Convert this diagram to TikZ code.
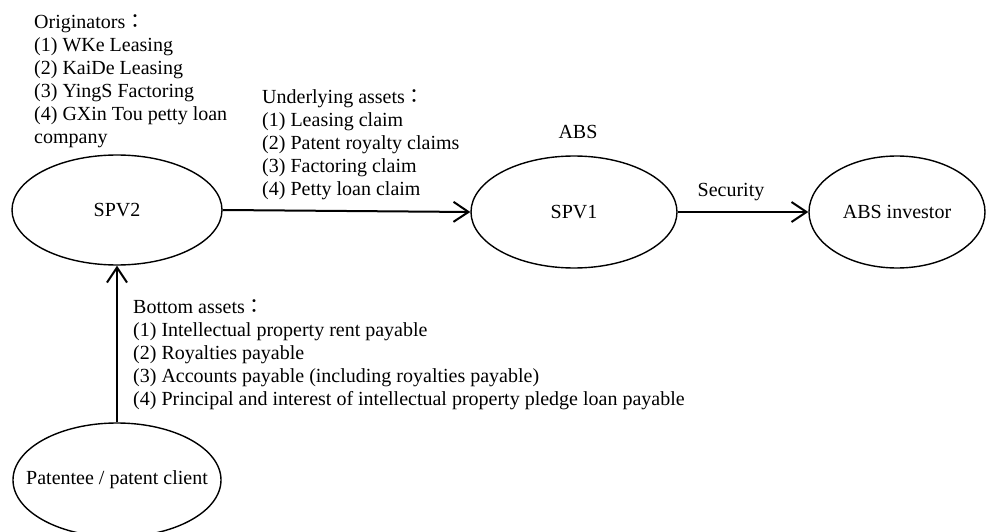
\documentclass[tikz,border=0pt]{standalone}
\usepackage{fontspec}
\setmainfont{Liberation Serif}
\newfontfamily\cjkjp{Noto Sans CJK JP}
\usetikzlibrary{shapes.geometric,arrows.meta}
\newcommand{\fcolon}{{\cjkjp ：}}
\newcommand{\ctext}[1]{\makebox[0pt]{#1}}
\tikzset{
  oval/.style={draw, ellipse, line width=1.4pt, inner sep=0pt, font=\fontsize{20}{23}\selectfont},
  flow/.style={draw, line width=2pt, -{Straight Barb[length=15pt,width=20pt,line width=2pt]}},
  txt/.style={inner sep=0pt, align=left, anchor=base west, font=\fontsize{20}{23}\selectfont},
  lbl/.style={inner sep=0pt, anchor=base, font=\fontsize{20}{23}\selectfont}
}
\begin{document}
\begin{tikzpicture}[x=1pt,y=-1pt]
\useasboundingbox (0,0) rectangle (989,532);
\clip (0,0) rectangle (989,532);
\node[oval, minimum width=210pt, minimum height=110pt] (spv2) at (117,210) {\ctext{SPV2}};
\node[oval, minimum width=206pt, minimum height=112pt] (spv1) at (574,212) {\ctext{SPV1}};
\node[oval, minimum width=176pt, minimum height=112pt] (inv) at (897,212) {\ctext{ABS investor}};
\node[oval, minimum width=208pt, minimum height=114pt] (pat) at (117,480) {\ctext{Patentee / patent client}};
\draw[flow] (spv2.east) -- (spv1.west);
\draw[flow] (spv1.east) -- (inv.west);
\draw[flow] (pat.north) -- (spv2.south);
\node[txt] (orig) at (34,143.5) {Originators\fcolon\\(1) WKe Leasing\\(2) KaiDe Leasing\\(3) YingS Factoring\\(4) GXin Tou petty loan\\company};
\node[txt] (under) at (262,195.5) {Underlying assets\fcolon\\(1) Leasing claim\\(2) Patent royalty claims\\(3) Factoring claim\\(4) Petty loan claim};
\node[txt] (bottom) at (133,405.5) {Bottom assets\fcolon\\(1) Intellectual property rent payable\\(2) Royalties payable\\(3) Accounts payable (including royalties payable)\\(4) Principal and interest of intellectual property pledge loan payable};
\node[lbl] (abs) at (578,138.5) {ABS};
\node[lbl] (sec) at (731,196.5) {Security};
\end{tikzpicture}
\end{document}
